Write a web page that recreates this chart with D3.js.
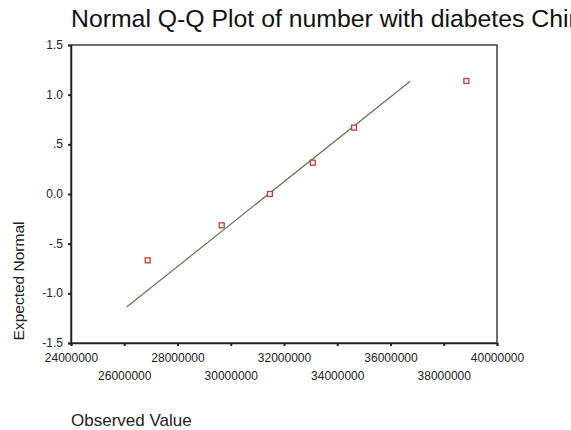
<!DOCTYPE html>
<html><head><meta charset="utf-8">
<script src="https://cdn.jsdelivr.net/npm/d3@7"></script>
<style>body{margin:0;background:#fff;overflow:hidden}svg{display:block}</style>
</head><body>
<svg id="c" width="571" height="430"></svg>
<script>
const titleText = "Normal Q-Q Plot of number with diabetes China";
const xLabel = "Observed Value";
const yLabel = "Expected Normal";
const observed = [26880000, 29660000, 31470000, 33080000, 34630000, 38850000];
const expected = [-0.668, -0.315, 0.0, 0.315, 0.668, 1.138];
const lineX = [26090000, 36740000];
const lineY = [-1.138, 1.135];
const xTicks = [24000000, 26000000, 28000000, 30000000, 32000000, 34000000, 36000000, 38000000, 40000000];
const yTicks = [-1.5, -1.0, -0.5, 0.0, 0.5, 1.0, 1.5];
const yTickLabels = ["-1.5", "-1.0", "-.5", "0.0", ".5", "1.0", "1.5"];

const svg = d3.select("#c");
const L = 71, R = 497, T = 45, B = 343;
const x = d3.scaleLinear().domain([24000000, 40000000]).range([L, R]);
const y = d3.scaleLinear().domain([-1.5, 1.5]).range([B, T]);
const font = "Liberation Sans, Arial, sans-serif";

svg.append("text").attr("x", 71).attr("y", 27).attr("font-family", font)
  .attr("font-size", 24.8).attr("fill", "#111").text(titleText);

// frame
svg.append("rect").attr("x", L).attr("y", T).attr("width", R - L).attr("height", B - T)
  .attr("fill", "none").attr("stroke", "#222").attr("stroke-width", 1.3);

// y axis
const yAxis = d3.axisLeft(y).tickValues(yTicks).tickSize(3)
  .tickFormat((d, i) => yTickLabels[i]);
const gy = svg.append("g").attr("transform", `translate(${L},0)`).call(yAxis);
gy.select(".domain").attr("stroke", "#222").attr("stroke-width", 1.5);
gy.selectAll(".tick line").attr("stroke", "#222").attr("stroke-width", 2);
gy.selectAll(".tick text").attr("font-family", font).attr("font-size", 12)
  .attr("fill", "#222").attr("x", -8).attr("dy", "0.3em");

// x axis
const xAxis = d3.axisBottom(x).tickValues(xTicks).tickSize(3).tickFormat(d3.format("d"));
const gx = svg.append("g").attr("transform", `translate(0,${B})`).call(xAxis);
gx.select(".domain").attr("stroke", "#222").attr("stroke-width", 1.5);
gx.selectAll(".tick line").attr("stroke", "#222").attr("stroke-width", 2);
gx.selectAll(".tick text").attr("font-family", font).attr("font-size", 12)
  .attr("fill", "#222").attr("y", (d, i) => i % 2 === 0 ? 10 : 28);

// axis titles
svg.append("text").attr("transform", "translate(24,281) rotate(-90)")
  .attr("text-anchor", "middle").attr("font-family", font).attr("font-size", 15.5)
  .attr("fill", "#222").text(yLabel);
svg.append("text").attr("x", 71).attr("y", 426).attr("font-family", font)
  .attr("font-size", 17).attr("fill", "#222").text(xLabel);

// reference line
svg.append("line").attr("x1", x(lineX[0])).attr("y1", y(lineY[0]))
  .attr("x2", x(lineX[1])).attr("y2", y(lineY[1]))
  .attr("stroke", "#5d7a4e").attr("stroke-width", 1.2);

// points
svg.selectAll("rect.pt").data(observed).enter().append("rect").attr("class", "pt")
  .attr("x", (d) => x(d) - 2.5).attr("y", (d, i) => y(expected[i]) - 2.5)
  .attr("width", 5).attr("height", 5).attr("fill", "#fbeeee")
  .attr("stroke", "#b5473d").attr("stroke-width", 1.3);
</script>
</body></html>
